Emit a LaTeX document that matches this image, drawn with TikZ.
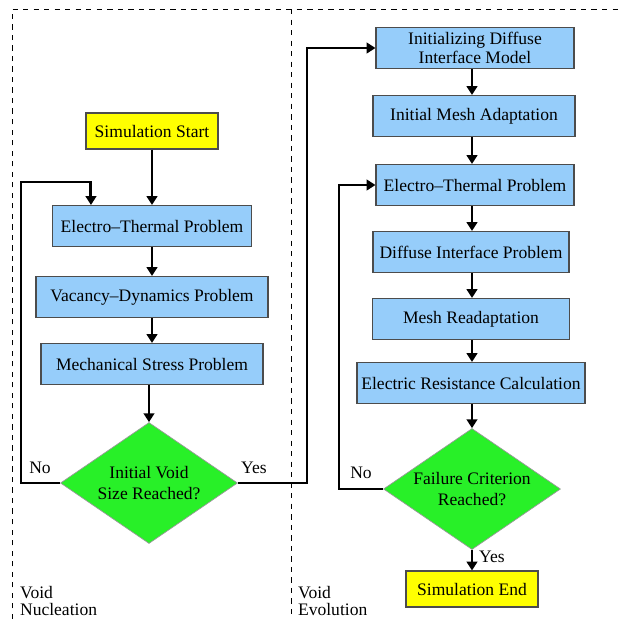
\documentclass[tikz,border=0pt]{standalone}
\usepackage{fontspec}
\setmainfont{Liberation Serif}
\usetikzlibrary{arrows.meta, shapes.geometric, calc}
\newdimen\px
\px=0.57pt
\definecolor{boxblue}{RGB}{150,205,250}
\definecolor{decgreen}{RGB}{40,240,40}
\definecolor{termyellow}{RGB}{255,255,0}
\begin{document}
\begin{tikzpicture}[
    x=0.57pt, y=-0.57pt,
    font=\fontsize{10}{12}\selectfont,
    stepbox/.style={draw=black!70, line width=0.6pt, fill=boxblue, align=center, minimum height=41\px, inner sep=1pt},
    term/.style={draw=black!70, line width=0.6pt, fill=termyellow, align=center, minimum width=132\px, minimum height=36\px},
    decision/.style={draw=black!40, line width=0.4pt, diamond, fill=decgreen, align=center, shape aspect=1.45, inner sep=0pt, minimum width=177\px, minimum height=121\px},
    arr/.style={-{Triangle[width=6pt, length=5pt]}, line width=1.7pt},
    frame/.style={dashed, line width=0.5pt},
    lbl/.style={inner sep=1pt}
]
\useasboundingbox (0,0) rectangle (618,619);
% dashed frame
\draw[frame] (12,619) -- (12,9) -- (618,9);
\draw[frame] (291,9) -- (291,619);
\node[lbl, anchor=north west, align=left, font=\fontsize{10}{10}\selectfont] (nuc) at (18,584) {Void\\Nucleation};
\node[lbl, anchor=north west, align=left, font=\fontsize{10}{10}\selectfont] (evo) at (296,584) {Void\\Evolution};

% void nucleation
\node[term] (start) at (152,131) {Simulation Start};
\node[stepbox, minimum width=199\px] (et1) at (152,226) {Electro--Thermal Problem};
\node[stepbox, minimum width=232\px] (vac) at (152,297) {Vacancy--Dynamics Problem};
\node[stepbox, minimum width=222\px] (mech) at (152,364) {Mechanical Stress Problem};
\node[decision] (d1) at (149,483) {Initial Void\\Size Reached?};

% void evolution
\node[stepbox, minimum width=198\px, font=\fontsize{10}{10.5}\selectfont] (init) at (475,48) {Initializing Diffuse\\Interface Model};
\node[stepbox, minimum width=202\px] (mesh) at (474,116) {Initial Mesh Adaptation};
\node[stepbox, minimum width=198\px] (et2) at (475,185) {Electro--Thermal Problem};
\node[stepbox, minimum width=196\px] (diff) at (471,252) {Diffuse Interface Problem};
\node[stepbox, minimum width=197\px] (read) at (471,319) {Mesh Readaptation};
\node[stepbox, minimum width=228\px] (res) at (471,383) {Electric Resistance Calculation};
\node[decision] (d2) at (472,489) {Failure Criterion\\Reached?};
\node[term] (end) at (472,589) {Simulation End};

\coordinate (nuc loop) at (21,182);
\coordinate (yes turn) at (307,48);
\coordinate (evo loop) at (339,185);

\draw[arr] (start) -- (start |- et1.north);
\draw[arr] (et1.south -| start) -- (vac.north -| start);
\draw[arr] (vac.south -| start) -- (mech.north -| start);
\draw[arr] (mech.south -| d1) -- (d1.north);
\draw[arr] (d1.west) -| (nuc loop) -| ($(et1.north west)+(39,0)$);
\draw[arr] (d1.east) -| (yes turn) -- (init.west);
\node[lbl] (no1) at (40,468) {No};
\node[lbl] (yes1) at (254,468) {Yes};

\draw[arr] (init.south -| d2) -- (mesh.north -| d2);
\draw[arr] (mesh.south -| d2) -- (et2.north -| d2);
\draw[arr] (et2.south -| d2) -- (diff.north -| d2);
\draw[arr] (diff.south -| d2) -- (read.north -| d2);
\draw[arr] (read.south -| d2) -- (res.north -| d2);
\draw[arr] (res.south -| d2) -- (d2.north);
\draw[arr] (d2.west) -| (evo loop) -- (et2.west);
\draw[arr] (d2.south) -- (end.north);
\node[lbl] (no2) at (361,473) {No};
\node[lbl] (yes2) at (492,557) {Yes};
\end{tikzpicture}
\end{document}
